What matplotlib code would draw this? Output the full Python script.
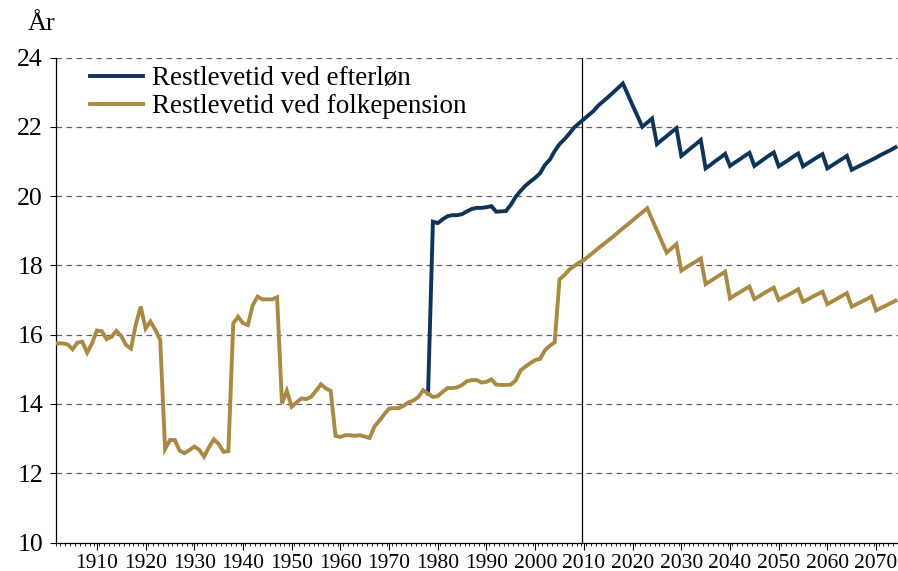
import matplotlib
matplotlib.use("Agg")
import matplotlib.pyplot as plt
from matplotlib.ticker import FixedLocator

plt.rcParams['font.family'] = ['Liberation Serif', 'DejaVu Serif']

# ---------------- data ----------------
years_fp = list(range(1902, 2075))
folkepension = [
    # 1902-1911
    15.75, 15.75, 15.72, 15.58, 15.77, 15.80, 15.48, 15.75, 16.12, 16.10,
    # 1912-1921
    15.87, 15.94, 16.11, 15.96, 15.70, 15.60, 16.30, 16.81, 16.18, 16.38,
    # 1922-1931
    16.14, 15.85, 12.70, 12.96, 12.96, 12.65, 12.58, 12.67, 12.77, 12.68,
    # 1932-1941
    12.48, 12.75, 12.98, 12.85, 12.62, 12.64, 16.33, 16.52, 16.33, 16.28,
    # 1942-1951
    16.85, 17.10, 17.02, 17.02, 17.02, 17.08, 14.02, 14.38, 13.92, 14.05,
    # 1952-1961
    14.16, 14.14, 14.21, 14.38, 14.57, 14.45, 14.38, 13.08, 13.05, 13.10,
    # 1962-1971
    13.10, 13.08, 13.10, 13.06, 13.02, 13.35, 13.52, 13.70, 13.87, 13.88,
    # 1972-1981
    13.88, 13.95, 14.05, 14.10, 14.20, 14.40, 14.30, 14.20, 14.23, 14.35,
    # 1982-1991
    14.46, 14.46, 14.48, 14.55, 14.66, 14.69, 14.69, 14.62, 14.64, 14.71,
    # 1992-2001
    14.56, 14.55, 14.55, 14.56, 14.68, 14.97, 15.08, 15.18, 15.27, 15.30,
    # 2002-2011
    15.55, 15.68, 15.78, 17.60, 17.72, 17.88, 17.98, 18.08, 18.15, 18.27,
    # 2012-2021
    18.38, 18.50, 18.61, 18.72, 18.83, 18.95, 19.07, 19.18, 19.30, 19.42,
    # 2022-2031
    19.53, 19.65, 19.33, 19.01, 18.69, 18.37, 18.49, 18.61, 17.85, 17.94,
    # 2032-2041
    18.03, 18.11, 18.20, 17.46, 17.55, 17.64, 17.73, 17.82, 17.05, 17.14,
    # 2042-2051
    17.22, 17.31, 17.39, 17.03, 17.11, 17.20, 17.28, 17.36, 17.00, 17.08,
    # 2052-2061
    17.15, 17.23, 17.31, 16.95, 17.02, 17.10, 17.17, 17.24, 16.88, 16.96,
    # 2062-2071
    17.04, 17.12, 17.20, 16.81, 16.88, 16.95, 17.02, 17.10, 16.70, 16.77,
    # 2072-2074
    16.84, 16.91, 16.98,
]

years_ef = list(range(1978, 2075))
efterloen = [
    # 1978-1987
    14.30, 19.26, 19.22, 19.33, 19.42, 19.45, 19.45, 19.48, 19.56, 19.63,
    # 1988-1997
    19.66, 19.66, 19.68, 19.71, 19.55, 19.56, 19.57, 19.75, 19.98, 20.15,
    # 1998-2007
    20.30, 20.42, 20.53, 20.66, 20.90, 21.05, 21.30, 21.50, 21.64, 21.80,
    # 2008-2017
    21.98, 22.10, 22.22, 22.34, 22.46, 22.62, 22.74, 22.86, 22.99, 23.12,
    # 2018-2027
    23.25, 22.94, 22.62, 22.31, 22.00, 22.12, 22.24, 21.50, 21.62, 21.73,
    # 2028-2037
    21.85, 21.96, 21.16, 21.27, 21.39, 21.50, 21.62, 20.80, 20.90, 21.01,
    # 2038-2047
    21.11, 21.22, 20.87, 20.97, 21.06, 21.16, 21.25, 20.87, 20.97, 21.07,
    # 2048-2057
    21.17, 21.26, 20.86, 20.95, 21.04, 21.14, 21.23, 20.86, 20.95, 21.04,
    # 2058-2067
    21.13, 21.21, 20.80, 20.89, 20.98, 21.07, 21.16, 20.76, 20.83, 20.90,
    # 2068-2074
    20.97, 21.04, 21.11, 21.19, 21.26, 21.33, 21.41,
]

label_years = list(range(1910, 2071, 10))
y_ticks = [10, 12, 14, 16, 18, 20, 22, 24]
series_names = ["Restlevetid ved efterløn", "Restlevetid ved folkepension"]
y_unit = "År"

# ---------------- styling ----------------
c_blue = "#0F3459"
c_gold = "#A88A44"

fig = plt.figure(figsize=(8.98, 5.71), dpi=100)
ax = fig.add_axes([55.5 / 898, 28.4 / 571, (898 - 55.5) / 898, (542.6 - 57.5) / 571])

ax.plot(years_ef, efterloen, color=c_blue, lw=2.8, solid_joinstyle='miter',
        label=series_names[0], zorder=3)
ax.plot(years_fp, folkepension, color=c_gold, lw=2.8, solid_joinstyle='miter',
        label=series_names[1], zorder=3)

ax.set_xlim(1901.5, 2074.5)
ax.set_ylim(10, 24)

for yv in y_ticks[1:]:
    ax.axhline(yv, color="#606060", lw=0.9, ls=(0, (4.5, 3.5)), zorder=1)

ax.axvline(2009.7, color="black", lw=0.9, zorder=2)

for s in ["top", "right"]:
    ax.spines[s].set_visible(False)
for s in ["left", "bottom"]:
    ax.spines[s].set_linewidth(0.9)
    ax.spines[s].set_color("black")

ax.set_yticks(y_ticks)
ax.set_yticklabels([str(v) for v in y_ticks], fontsize=18.5)
ax.tick_params(axis='y', direction='out', length=4, width=0.8, pad=5)

ax.xaxis.set_major_locator(FixedLocator(label_years))
ax.set_xticklabels([str(v) for v in label_years], fontsize=15.5)
ax.xaxis.set_minor_locator(FixedLocator([y + 0.5 for y in range(1901, 2075)]))
ax.tick_params(axis='x', which='major', direction='out', length=5, width=0.8, pad=3)
ax.tick_params(axis='x', which='minor', direction='out', length=2.5, width=0.6)

fig.text(28 / 898, 1 - 24 / 571, y_unit, fontsize=19, ha='left', va='center')

leg = ax.legend(loc='upper left', bbox_to_anchor=(0.041, 0.982), frameon=False,
                fontsize=19.5, handlelength=1.95, handletextpad=0.32,
                labelspacing=0.12, borderpad=0, borderaxespad=0)

fig.savefig("out.png", dpi=100, facecolor="white")
